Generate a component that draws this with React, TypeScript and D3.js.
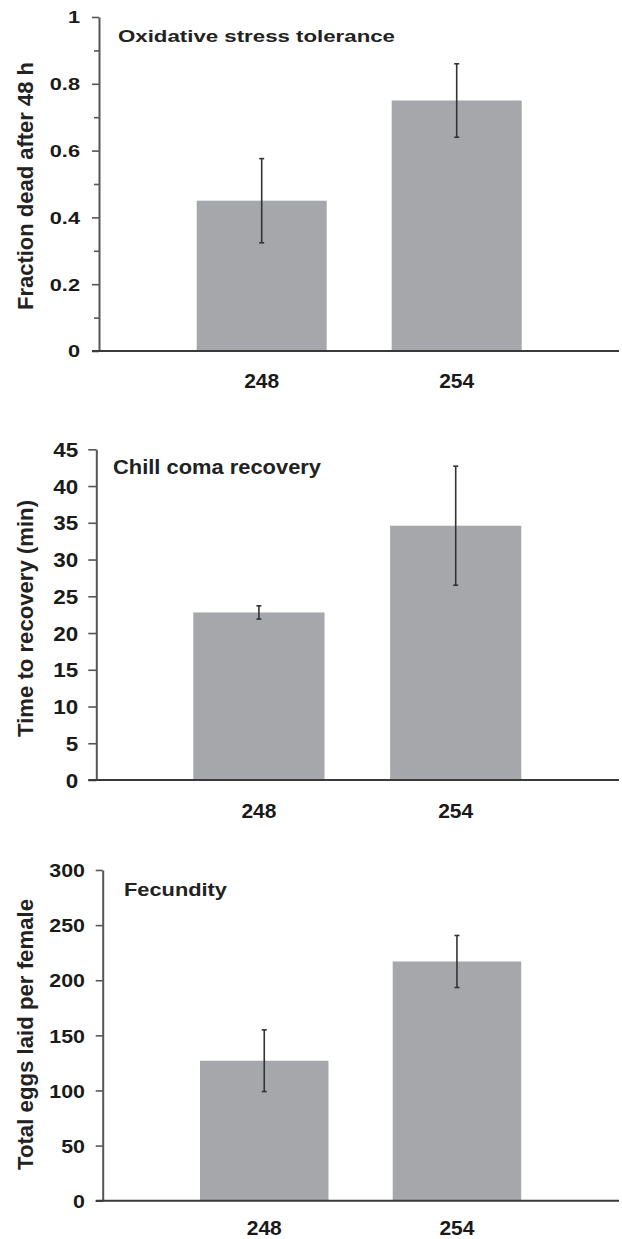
import * as d3 from "d3";
import { useEffect, useRef } from "react";

const lines = ["248", "254"];

const oxidativeMean = [0.45, 0.75];
const oxidativeErr = [0.126, 0.11];

const chillMean = [22.8, 34.6];
const chillErr = [0.9, 8.1];

const fecundityMean = [127, 217];
const fecundityErr = [28, 23.6];

const oxidativeTicks = [0, 0.1, 0.2, 0.3, 0.4, 0.5, 0.6, 0.7, 0.8, 0.9, 1];
const chillTicks = [0, 5, 10, 15, 20, 25, 30, 35, 40, 45];
const fecundityTicks = [0, 50, 100, 150, 200, 250, 300];

const font = "'Liberation Sans', Arial, Helvetica, sans-serif";

const panels = [
  {
    title: "Oxidative stress tolerance",
    ylabel: "Fraction dead after 48 h",
    means: oxidativeMean,
    errs: oxidativeErr,
    ticks: oxidativeTicks,
    fmt: (d) => (Math.round(d * 10) % 2 === 0 ? (d === 0 || d === 1 ? String(d) : d.toFixed(1)) : ""),
    max: 1,
    axisX: 99, y0: 351, yTop: 17, tick: 7, tickFont: 16.5, tickStretch: 1.32, tickRight: 80,
    band: [164.2, 554.2],
    titleX: 118, titleY: 42, titleW: 277, titleFont: 17,
    labelCy: 186, labelW: 248,
    xlabelY: 388,
  },
  {
    title: "Chill coma recovery",
    ylabel: "Time to recovery (min)",
    means: chillMean,
    errs: chillErr,
    ticks: chillTicks,
    fmt: (d) => String(d),
    max: 45,
    axisX: 96.3, y0: 780, yTop: 449.3, tick: 8, tickFont: 19.5, tickStretch: 1.15, tickRight: 78.3,
    band: [160.5, 554.1],
    titleX: 113, titleY: 474, titleW: 208, titleFont: 20,
    labelCy: 618.5, labelW: 237,
    xlabelY: 818,
  },
  {
    title: "Fecundity",
    ylabel: "Total eggs laid per female",
    means: fecundityMean,
    errs: fecundityErr,
    ticks: fecundityTicks,
    fmt: (d) => String(d),
    max: 300,
    axisX: 102.7, y0: 1200.7, yTop: 870, tick: 7, tickFont: 18.6, tickStretch: 1.15, tickRight: 85,
    band: [167.9, 553.3],
    titleX: 124, titleY: 896, titleW: 103, titleFont: 18.6,
    labelCy: 1034.5, labelW: 271,
    xlabelY: 1235,
  },
];

export default function App() {
  const ref = useRef(null);

  useEffect(() => {
    const svg = d3.select(ref.current);
    svg.selectAll("*").remove();

    panels.forEach((p) => {
      const g = svg.append("g");
      const y = d3.scaleLinear().domain([0, p.max]).range([p.y0, p.yTop]);
      const x = d3.scaleBand().domain(lines).range(p.band).paddingInner(1 / 3).paddingOuter(1 / 6);

      // bars
      g.selectAll("rect.bar")
        .data(p.means)
        .join("rect")
        .attr("x", (d, i) => x(lines[i]))
        .attr("width", x.bandwidth())
        .attr("y", (d) => y(d))
        .attr("height", (d) => y(0) - y(d))
        .attr("fill", "#a6a7ab");

      // error bars
      const eb = g.append("g").attr("stroke", "#333").attr("stroke-width", 1.6);
      p.means.forEach((m, i) => {
        const cx = x(lines[i]) + x.bandwidth() / 2;
        const e = p.errs[i];
        eb.append("line").attr("x1", cx).attr("x2", cx).attr("y1", y(m + e)).attr("y2", y(m - e));
        [m + e, m - e].forEach((v) =>
          eb.append("line").attr("x1", cx - 2.5).attr("x2", cx + 2.5).attr("y1", y(v)).attr("y2", y(v))
        );
      });

      // y axis
      const ax = g.append("g")
        .attr("transform", `translate(${p.axisX},0)`)
        .call(d3.axisLeft(y).tickValues(p.ticks).tickFormat(p.fmt).tickSize(p.tick).tickSizeOuter(0));
      ax.select(".domain").attr("stroke", "#555").attr("stroke-width", 2);
      ax.selectAll(".tick line").attr("stroke", "#555").attr("stroke-width", 1.6)
        .attr("x2", (d) => (p.fmt(d) === "" ? -5 : -p.tick));
      ax.selectAll(".tick text")
        .attr("font-family", font)
        .attr("font-weight", "bold")
        .attr("font-size", p.tickFont)
        .attr("fill", "#1a1a1a")
        .attr("x", 0)
        .attr("dy", "0.36em")
        .attr("transform", `translate(${-(p.axisX - p.tickRight)},0) scale(${p.tickStretch},1)`);

      // x axis
      g.append("line")
        .attr("x1", p.axisX - p.tick).attr("x2", 619)
        .attr("y1", y(0)).attr("y2", y(0))
        .attr("stroke", "#3a3a3a").attr("stroke-width", 2);

      g.selectAll("text.xl")
        .data(lines)
        .join("text")
        .attr("class", "xl")
        .attr("x", (d) => x(d) + x.bandwidth() / 2)
        .attr("y", p.xlabelY)
        .attr("text-anchor", "middle")
        .attr("font-family", font)
        .attr("font-weight", "bold")
        .attr("font-size", 21)
        .attr("fill", "#1a1a1a")
        .text((d) => d);

      // title
      g.append("text")
        .attr("x", p.titleX)
        .attr("y", p.titleY)
        .attr("font-family", font)
        .attr("font-weight", "bold")
        .attr("font-size", p.titleFont)
        .attr("fill", "#222")
        .attr("textLength", p.titleW)
        .attr("lengthAdjust", "spacingAndGlyphs")
        .text(p.title);

      // y label
      g.append("text")
        .attr("transform", `translate(33,${p.labelCy}) rotate(-90)`)
        .attr("text-anchor", "middle")
        .attr("font-family", font)
        .attr("font-weight", "bold")
        .attr("font-size", 21.5)
        .attr("fill", "#222")
        .attr("textLength", p.labelW)
        .attr("lengthAdjust", "spacingAndGlyphs")
        .text(p.ylabel);
    });
  }, []);

  return (
    <svg
      ref={ref}
      width={622}
      height={1239}
      style={{ position: "absolute", left: 0, top: 0, background: "#fff" }}
    />
  );
}
